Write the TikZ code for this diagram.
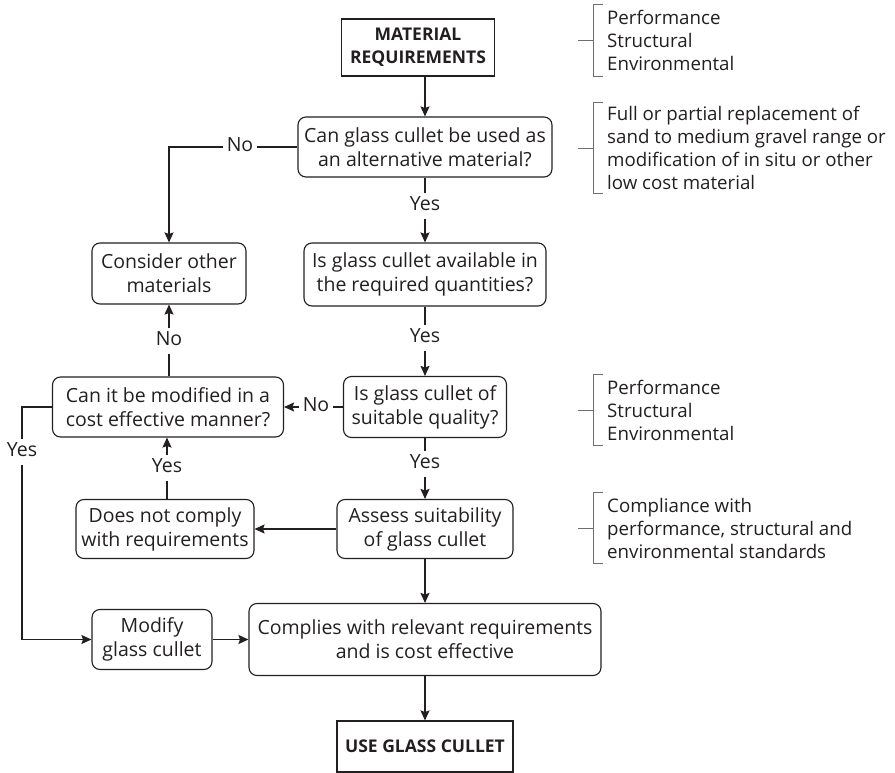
\documentclass[tikz,border=0pt]{standalone}
\usepackage{fontspec}
\setmainfont{Open Sans}
\usetikzlibrary{arrows.meta}
\definecolor{linec}{HTML}{231F20}
\definecolor{brkc}{HTML}{6E6E6E}
\newcommand\fsreg{\fontsize{19.5}{24}\selectfont}
\newcommand\fsnote{\fontsize{18.7}{23}\selectfont}
\newcommand\fsbold{\fontsize{17.5}{23}\selectfont\bfseries}
\tikzset{
  box/.style={draw=linec, line width=1.1pt, rounded corners=8pt, align=center, inner sep=2pt, font=\fsreg, text=linec},
  sqbox/.style={draw=linec, line width=1.1pt, align=center, inner sep=2pt, font=\fsbold, text=linec},
  lab/.style={inner xsep=4pt, inner ysep=4pt, text height=13pt, text depth=4pt, font=\fsreg, text=linec},
  conn/.style={draw=linec, line width=1.1pt},
  arr/.style={conn, -{Stealth[length=10pt, width=9pt, inset=1.5pt]}},
  note/.style={anchor=west, align=left, inner sep=0pt, font=\fsnote, text=linec},
  brk/.style={draw=brkc, line width=0.9pt}
}
\begin{document}
\begin{tikzpicture}[x=1pt, y=1pt]
\useasboundingbox (0,0) rectangle (895,-773);
% main nodes
\node[sqbox, minimum width=153pt, minimum height=57pt] (mr) at (418,-47.5) {MATERIAL\\REQUIREMENTS};
\node[box, minimum width=254pt, minimum height=60pt] (canglass) at (425,-147) {Can glass cullet be used as\\an alternative material?};
\node[box, minimum width=154pt, minimum height=61pt] (consider) at (169,-273.5) {Consider other\\materials};
\node[box, minimum width=242pt, minimum height=63pt] (avail) at (425,-274.5) {Is glass cullet available in\\the required quantities?};
\node[box, minimum width=231pt, minimum height=60pt] (canmod) at (168,-407) {Can it be modified in a\\cost effective manner?};
\node[box, minimum width=163pt, minimum height=61pt] (suitable) at (425,-407) {Is glass cullet of\\suitable quality?};
\node[box, minimum width=178pt, minimum height=59pt] (notcomply) at (165,-529) {Does not comply\\with requirements};
\node[box, minimum width=176pt, minimum height=59pt] (assess) at (425,-529) {Assess suitability\\of glass cullet};
\node[box, minimum width=120pt, minimum height=60pt] (modify) at (152,-639.5) {Modify\\glass cullet};
\node[box, minimum width=352pt, minimum height=72pt] (complies) at (425,-639.5) {Complies with relevant requirements\\and is cost effective};
\node[sqbox, minimum width=176pt, minimum height=51pt] (use) at (425,-746.5) {USE GLASS CULLET};
% labels
\node[lab] (no1) at (240,-147) {No};
\node[lab] (yes1) at (425,-206) {Yes};
\node[lab] (yes2) at (425,-338) {Yes};
\node[lab] (no2) at (169,-341) {No};
\node[lab] (no3) at (316,-407) {No};
\node[lab] (yes3) at (425,-464) {Yes};
\node[lab] (yesl) at (22,-452) {Yes};
\node[lab] (yes4) at (167,-468) {Yes};
% connectors
\draw[arr] (mr.south -| canglass.north) -- (canglass.north);
\draw[conn] (canglass.west) -- (no1.east);
\draw[arr] (no1.west) -| (consider.north);
\draw[conn] (canglass.south) -- (yes1.north);
\draw[arr] (yes1.south) -- (avail.north);
\draw[conn] (avail.south) -- (yes2.north);
\draw[arr] (yes2.south) -- (suitable.north);
\draw[conn] (suitable.west) -- (no3.east);
\draw[arr] (no3.west) -- (canmod.east);
\draw[conn] (canmod.north -| no2) -- (no2.south);
\draw[arr] (no2.north) -- (no2 |- consider.south);
\draw[conn] (suitable.south) -- (yes3.north);
\draw[arr] (yes3.south) -- (assess.north);
\draw[arr] (assess.west) -- (notcomply.east);
\draw[conn] (notcomply.north -| yes4) -- (yes4.south);
\draw[arr] (yes4.north) -- (yes4 |- canmod.south);
\draw[conn] (canmod.west) -| (yesl.north);
\draw[arr] (yesl.south) |- (modify.west);
\draw[arr] (modify.east) -- (complies.west);
\draw[arr] (assess.south) -- (complies.north);
\draw[arr] (complies.south) -- (use.north);
% side notes
\node[note, minimum height=71pt] (t1) at (607,-40.5) {Performance\\Structural\\Environmental};
\node[note, minimum height=90pt] (t2) at (607,-148) {Full or partial replacement of\\sand to medium gravel range or\\modification of in situ or other\\low cost material};
\node[note, minimum height=70pt] (t3) at (607,-410) {Performance\\Structural\\Environmental};
\node[note, minimum height=70pt] (t4) at (607,-528) {Compliance with\\performance, structural and\\environmental standards};
\foreach \t in {t1,t2,t3,t4}{
  \draw[brk] ([xshift=-4pt]\t.north west) -- ([xshift=-14pt]\t.north west) -- ([xshift=-14pt]\t.south west) -- ([xshift=-4pt]\t.south west);
  \draw[brk] ([xshift=-14pt]\t.west) -- ([xshift=-29pt]\t.west);
}
\end{tikzpicture}
\end{document}
